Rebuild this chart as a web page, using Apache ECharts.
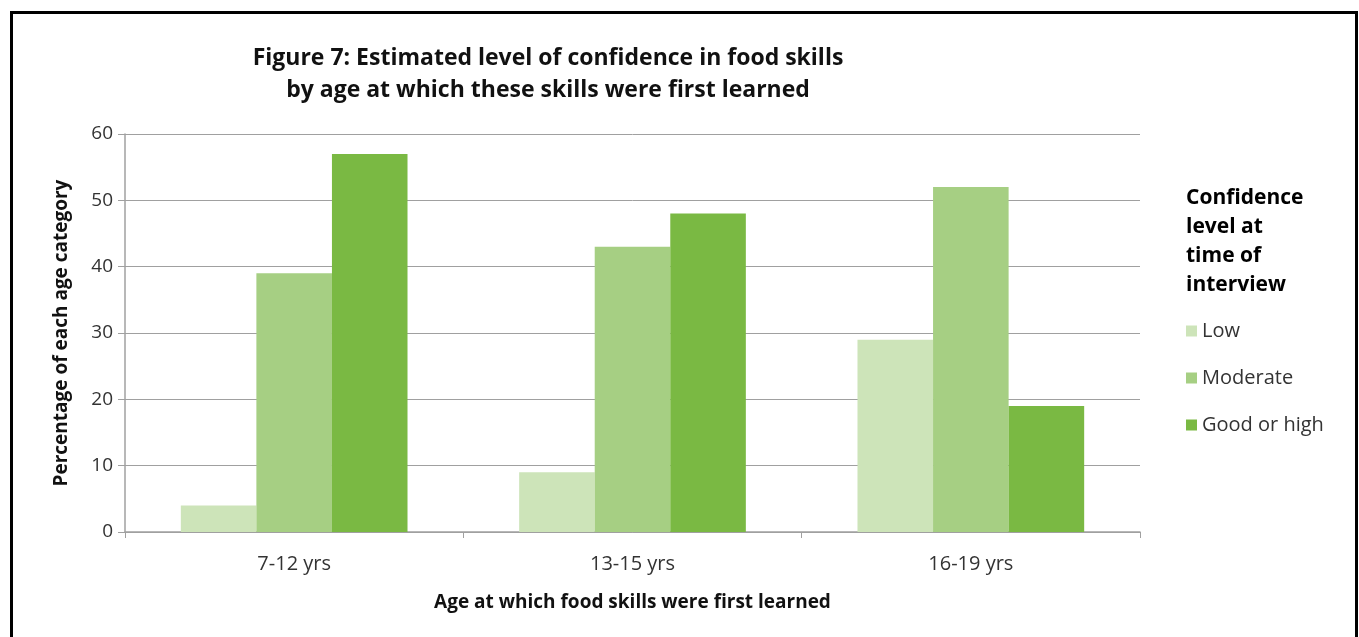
<!DOCTYPE html>
<html>
<head>
<meta charset="utf-8">
<script src="https://cdn.jsdelivr.net/npm/echarts@6/dist/echarts.min.js"></script>
<style>
html,body{margin:0;padding:0;background:#fff;}
#chart{width:1359px;height:637px;}
</style>
</head>
<body>
<div id="chart"></div>
<script>
const categories = ['7-12 yrs', '13-15 yrs', '16-19 yrs'];
const seriesNames = ['Low', 'Moderate', 'Good or high'];
const lowValues = [4, 9, 29];
const moderateValues = [39, 43, 52];
const goodValues = [57, 48, 19];
const colors = ['#cde4b9', '#a6cf83', '#7ab943'];
const FONT = '"Open Sans", sans-serif';

const chart = echarts.init(document.getElementById('chart'));
chart.setOption({
  animation: false,
  backgroundColor: '#ffffff',
  title: [
    {
      text: 'Figure 7: Estimated level of confidence in food skills\nby age at which these skills were first learned',
      left: 543, top: 37, textAlign: 'center',
      textStyle: { fontFamily: FONT, fontWeight: 'bold', fontSize: 23, lineHeight: 32, color: '#111' }
    },
    {
      text: 'Confidence\nlevel at\ntime of\ninterview',
      left: 1181, top: 179,
      textStyle: { fontFamily: FONT, fontWeight: 'bold', fontSize: 21, lineHeight: 29, color: '#000' }
    }
  ],
  graphic: [{
    type: 'rect', shape: { x: 11.5, y: 12.5, width: 1345, height: 700 },
    style: { fill: 'none', stroke: '#000', lineWidth: 3 }, silent: true
  }],
  legend: {
    orient: 'vertical', left: 1181, top: 316,
    itemWidth: 11, itemHeight: 11, itemGap: 27,
    icon: 'rect',
    textStyle: { fontFamily: FONT, fontSize: 20, color: '#333' },
    data: seriesNames
  },
  grid: { left: 125, right: 219, top: 134, bottom: 105 },
  xAxis: {
    type: 'category', data: categories,
    name: 'Age at which food skills were first learned',
    nameLocation: 'middle', nameGap: 61,
    nameTextStyle: { fontFamily: FONT, fontWeight: 'bold', fontSize: 19, color: '#111' },
    axisLine: { lineStyle: { color: '#a0a0a0', width: 1.5 } },
    axisTick: { show: true, length: 6, lineStyle: { color: '#a0a0a0' } },
    axisLabel: { fontFamily: FONT, fontSize: 20, color: '#333', margin: 22 }
  },
  yAxis: {
    type: 'value', min: 0, max: 60, interval: 10,
    name: 'Percentage of each age category',
    nameLocation: 'middle', nameGap: 54,
    nameTextStyle: { fontFamily: FONT, fontWeight: 'bold', fontSize: 19, color: '#111' },
    axisLine: { show: true, lineStyle: { color: '#a0a0a0', width: 1.5 } },
    axisTick: { show: true, length: 7, lineStyle: { color: '#a0a0a0' } },
    axisLabel: { fontFamily: FONT, fontSize: 19, color: '#333', margin: 12 },
    splitLine: { lineStyle: { color: '#a0a0a0', width: 1 } }
  },
  series: [
    { name: seriesNames[0], type: 'bar', data: lowValues, itemStyle: { color: colors[0] }, barGap: '0%', barCategoryGap: '33%' },
    { name: seriesNames[1], type: 'bar', data: moderateValues, itemStyle: { color: colors[1] }, barGap: '0%', barCategoryGap: '33%' },
    { name: seriesNames[2], type: 'bar', data: goodValues, itemStyle: { color: colors[2] }, barGap: '0%', barCategoryGap: '33%' }
  ]
});
</script>
</body>
</html>
